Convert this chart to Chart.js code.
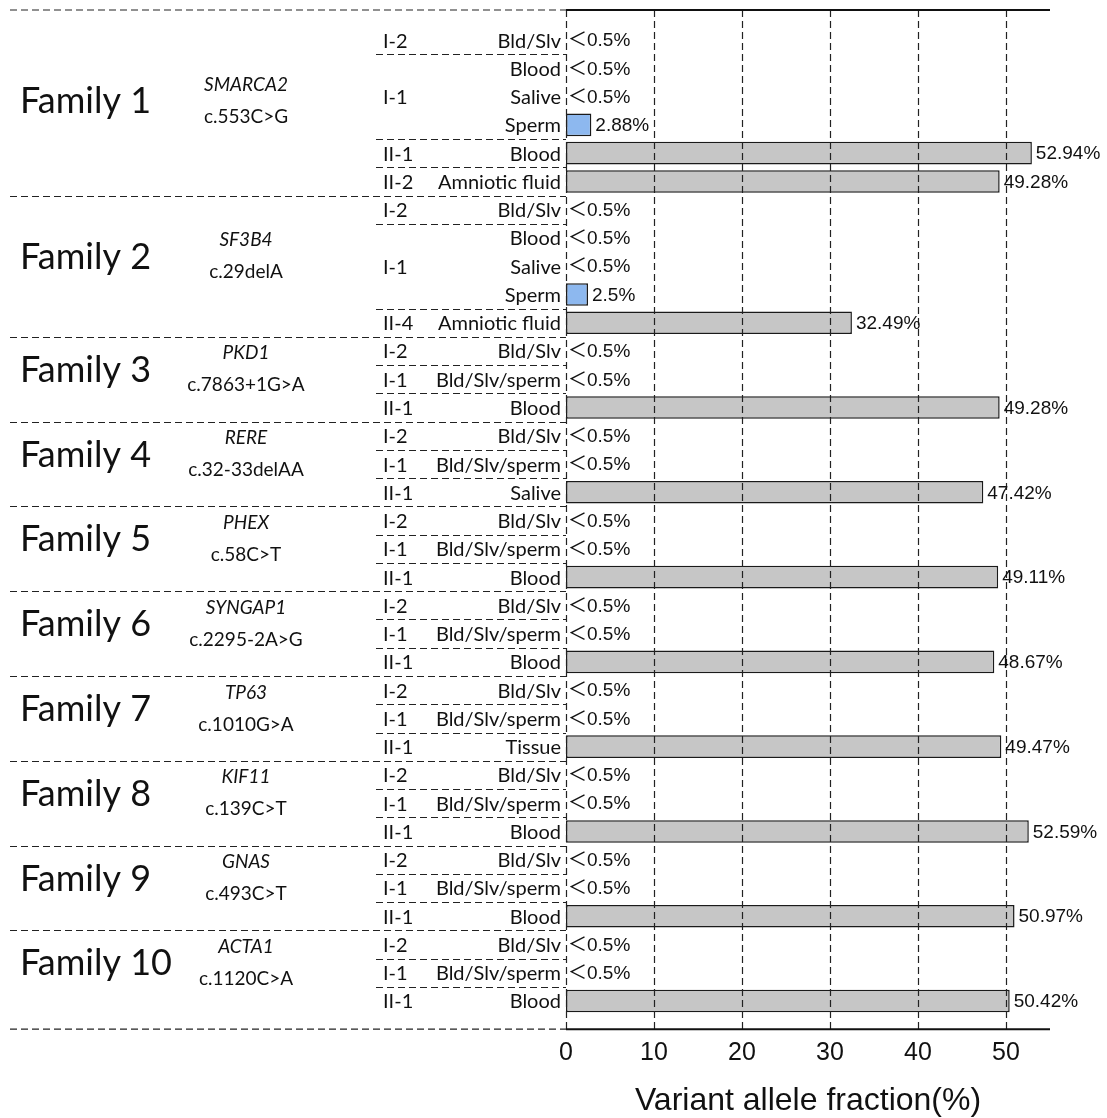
<!DOCTYPE html>
<html lang="en">
<head>
<meta charset="UTF-8">
<title>Variant allele fraction by family</title>
<style>
  html, body { margin: 0; padding: 0; background: #fff; }
  canvas { display: block; }
</style>
</head>
<body>
<canvas id="vafChart" width="1107" height="1118"></canvas>
<script src="https://cdn.jsdelivr.net/npm/chart.js"></script>
<script>
// --- data ---
const families = ['Family 1', 'Family 2', 'Family 3', 'Family 4', 'Family 5',
                  'Family 6', 'Family 7', 'Family 8', 'Family 9', 'Family 10'];
const genes = ['SMARCA2', 'SF3B4', 'PKD1', 'RERE', 'PHEX', 'SYNGAP1', 'TP63', 'KIF11', 'GNAS', 'ACTA1'];
const variants = ['c.553C>G', 'c.29delA', 'c.7863+1G>A', 'c.32-33delAA', 'c.58C>T',
                  'c.2295-2A>G', 'c.1010G>A', 'c.139C>T', 'c.493C>T', 'c.1120C>A'];

// one entry per bar row, top to bottom
const rowFamily = [0, 0, 0, 0, 0, 0,
                   1, 1, 1, 1, 1,
                   2, 2, 2, 3, 3, 3, 4, 4, 4, 5, 5, 5,
                   6, 6, 6, 7, 7, 7, 8, 8, 8, 9, 9, 9];
const rowIndividual = ['I-2', 'I-1', 'I-1', 'I-1', 'II-1', 'II-2',
                       'I-2', 'I-1', 'I-1', 'I-1', 'II-4',
                       'I-2', 'I-1', 'II-1', 'I-2', 'I-1', 'II-1', 'I-2', 'I-1', 'II-1',
                       'I-2', 'I-1', 'II-1', 'I-2', 'I-1', 'II-1', 'I-2', 'I-1', 'II-1',
                       'I-2', 'I-1', 'II-1', 'I-2', 'I-1', 'II-1'];
const rowSample = ['Bld/Slv', 'Blood', 'Salive', 'Sperm', 'Blood', 'Amniotic fluid',
                   'Bld/Slv', 'Blood', 'Salive', 'Sperm', 'Amniotic fluid',
                   'Bld/Slv', 'Bld/Slv/sperm', 'Blood',
                   'Bld/Slv', 'Bld/Slv/sperm', 'Salive',
                   'Bld/Slv', 'Bld/Slv/sperm', 'Blood',
                   'Bld/Slv', 'Bld/Slv/sperm', 'Blood',
                   'Bld/Slv', 'Bld/Slv/sperm', 'Tissue',
                   'Bld/Slv', 'Bld/Slv/sperm', 'Blood',
                   'Bld/Slv', 'Bld/Slv/sperm', 'Blood',
                   'Bld/Slv', 'Bld/Slv/sperm', 'Blood'];
// null = below detection (<0.5%)
const rowVaf = [null, null, null, 2.88, 52.94, 49.28,
                null, null, null, 2.5, 32.49,
                null, null, 49.28,
                null, null, 47.42,
                null, null, 49.11,
                null, null, 48.67,
                null, null, 49.47,
                null, null, 52.59,
                null, null, 50.97,
                null, null, 50.42];
const belowLabel = '＜0.5%';
const xTicks = [0, 10, 20, 30, 40, 50];

const GRAY = '#c6c6c6';
const BLUE = '#8db8ef';
const INK = '#111';
const LEFT_FONT = 'Lato, Carlito, "Noto Sans", sans-serif';
const AXIS_FONT = '"Liberation Sans", Arial, sans-serif';

// the frame extends a bit above / below the row bands
const FRAME_TOP = 16, FRAME_BOTTOM = 14;

function line(ctx, x1, y1, x2, y2) {
    ctx.beginPath();
    ctx.moveTo(x1, y1);
    ctx.lineTo(x2, y2);
    ctx.stroke();
}

const tablePlugin = {
    id: 'familyTable',
    afterDatasetsDraw(chart) {
        const { ctx, chartArea, scales: { x, y } } = chart;
        const x0 = x.getPixelForValue(0);
        const top = chartArea.top - FRAME_TOP;
        const bottom = chartArea.bottom + FRAME_BOTTOM;
        const n = rowVaf.length;
        const rowY = i => y.getPixelForValue(i);
        const edge = i => (rowY(i) + rowY(i + 1)) / 2;

        ctx.save();
        // vertical dashed grid lines
        ctx.strokeStyle = '#222';
        ctx.lineWidth = 1.2;
        ctx.setLineDash([7, 4]);
        xTicks.forEach(t => {
            const px = Math.round(x.getPixelForValue(t)) + 0.5;
            line(ctx, px, top, px, bottom);
        });

        // horizontal separators on the left
        line(ctx, 10, top, x0, top);
        line(ctx, 10, bottom, x0, bottom);
        for (let i = 0; i < n - 1; i++) {
            const yy = Math.round(edge(i)) + 0.5;
            if (rowFamily[i] !== rowFamily[i + 1]) {
                line(ctx, 10, yy, x0, yy);
            } else if (rowIndividual[i] !== rowIndividual[i + 1]) {
                line(ctx, 376, yy, x0, yy);
            }
        }

        // solid top and bottom rules over the plot
        ctx.setLineDash([]);
        ctx.lineWidth = 2;
        ctx.strokeStyle = '#111';
        line(ctx, x0, top, x.right, top);
        line(ctx, x0, bottom, x.right, bottom);

        // value labels
        ctx.fillStyle = INK;
        ctx.textBaseline = 'middle';
        ctx.textAlign = 'left';
        ctx.font = '19px "Liberation Sans", Arial, "Noto Sans CJK SC", sans-serif';
        rowVaf.forEach((v, i) => {
            if (v === null) {
                ctx.fillText(belowLabel, x0 + 2, rowY(i) + 1);
            } else {
                ctx.fillText(v + '%', x.getPixelForValue(v) + 4, rowY(i) + 1);
            }
        });

        // sample and individual columns
        ctx.font = '20px ' + LEFT_FONT;
        ctx.textAlign = 'right';
        rowSample.forEach((s, i) => ctx.fillText(s, x0 - 5, rowY(i) + 1));

        ctx.textAlign = 'left';
        let start = 0;
        for (let i = 0; i < n; i++) {
            const last = i === n - 1 || rowFamily[i] !== rowFamily[i + 1] ||
                         rowIndividual[i] !== rowIndividual[i + 1];
            if (last) {
                ctx.fillText(rowIndividual[i], 383, (rowY(start) + rowY(i)) / 2 + 1);
                start = i + 1;
            }
        }

        // family, gene, variant
        families.forEach((f, k) => {
            const rows = rowFamily.map((r, i) => r === k ? i : -1).filter(i => i >= 0);
            const mid = (rowY(rows[0]) + rowY(rows[rows.length - 1])) / 2 - 12;
            ctx.textAlign = 'left';
            ctx.font = '36px ' + LEFT_FONT;
            ctx.fillText(f, 20, mid + 3);
            ctx.textAlign = 'center';
            ctx.font = 'italic 19px ' + LEFT_FONT;
            ctx.fillText(genes[k], 246, mid - 14);
            ctx.font = '19px ' + LEFT_FONT;
            ctx.fillText(variants[k], 246, mid + 18);
        });
        ctx.restore();
    }
};

new Chart(document.getElementById('vafChart'), {
    type: 'bar',
    data: {
        labels: rowSample,
        datasets: [{
            label: 'Variant allele fraction',
            data: rowVaf,
            backgroundColor: rowSample.map(s => s === 'Sperm' ? BLUE : GRAY),
            borderColor: '#1a1a1a',
            borderWidth: 1.5,
            borderSkipped: false,
            barPercentage: 0.8,
            categoryPercentage: 1
        }]
    },
    options: {
        indexAxis: 'y',
        responsive: false,
        animation: false,
        layout: { padding: { left: 566, right: 57, top: 26, bottom: 7 } },
        plugins: {
            legend: { display: false },
            tooltip: { enabled: false }
        },
        scales: {
            y: { display: false },
            x: {
                type: 'linear',
                min: 0,
                max: 55,
                grid: { display: false, drawTicks: false },
                border: { display: false },
                ticks: {
                    stepSize: 10,
                    includeBounds: false,
                    padding: 23,
                    color: INK,
                    font: { family: AXIS_FONT, size: 25 }
                },
                title: {
                    display: true,
                    text: 'Variant allele fraction(%)',
                    color: INK,
                    padding: { top: 0, bottom: 0 },
                    font: { family: AXIS_FONT, size: 32, lineHeight: 0.62 }
                }
            }
        }
    },
    plugins: [tablePlugin]
});
</script>
</body>
</html>
